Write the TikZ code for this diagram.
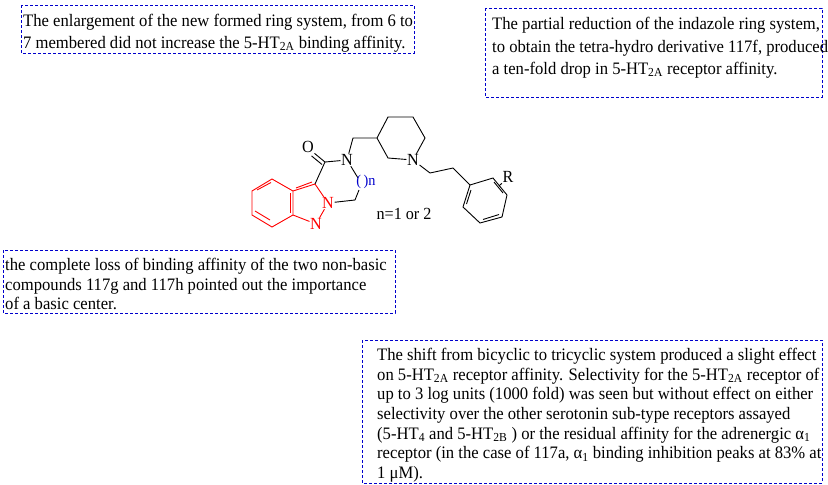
\documentclass[tikz,border=0pt]{standalone}
\usepackage{fontspec}
\setmainfont[FakeStretch=0.95]{Liberation Serif}
\usetikzlibrary{calc}
\newcommand{\sbs}[1]{\textsubscript{#1}}
\begin{document}
\begin{tikzpicture}[x=1pt,y=-1pt,
  box/.style={draw=blue!80!black,densely dashed,line width=0.8pt},
  txt/.style={anchor=base west,inner sep=0pt,font=\fontsize{17.5}{20}\selectfont},
  bd/.style={line width=0.9pt},
  rd/.style={bd,red},
  atm/.style={inner sep=0.5pt,font=\fontsize{17}{17}\selectfont}]
\useasboundingbox (0,0) rectangle (828,485);
% boxes
\draw[box] (21,5) rectangle (414,53);
\node[txt] (t1a) at (23,26) {The enlargement of the new formed ring system, from 6 to};
\node[txt] (t1b) at (23,48) {7 membered did not increase the 5-HT\sbs{2A} binding affinity.};
\draw[box] (485,8) rectangle (822,97);
\node[txt] (t2a) at (492,29) {The partial reduction of the indazole ring system,};
\node[txt] (t2b) at (492,52) {to obtain the tetra-hydro derivative 117f, produced};
\node[txt] (t2c) at (492,74) {a ten-fold drop in 5-HT\sbs{2A} receptor affinity.};
\draw[box] (3,250) rectangle (395,313);
\node[txt] (t3a) at (5,270) {the complete loss of binding affinity of the two non-basic};
\node[txt] (t3b) at (5,290) {compounds 117g and 117h pointed out the importance};
\node[txt] (t3c) at (5,309) {of a basic center.};
\draw[box] (362,340) rectangle (822,483);
\node[txt] (t4a) at (377,360) {The shift from bicyclic to tricyclic system produced a slight effect};
\node[txt] (t4b) at (377,380) {on 5-HT\sbs{2A} receptor affinity. Selectivity for the 5-HT\sbs{2A} receptor of};
\node[txt] (t4c) at (377,399.5) {up to 3 log units (1000 fold) was seen but without effect on either};
\node[txt] (t4d) at (377,419) {selectivity over the other serotonin sub-type receptors assayed};
\node[txt] (t4e) at (377,439) {(5-HT\sbs{4} and 5-HT\sbs{2B} ) or the residual affinity for the adrenergic α\sbs{1}};
\node[txt] (t4f) at (377,458.5) {receptor (in the case of 117a, α\sbs{1} binding inhibition peaks at 83\% at};
\node[txt] (t4g) at (377,478) {1 μM).};
% molecule
\coordinate (b1) at (252,191); \coordinate (b2) at (272,179);
\coordinate (b3) at (293,191); \coordinate (b4) at (293,215);
\coordinate (b5) at (272,227); \coordinate (b6) at (252,215);
\coordinate (c3) at (315,184);
\node[atm,red] (n1) at (328,203) {N};
\node[atm,red] (n2) at (316,224) {N};
\draw[rd] (b1)--(b2)--(b3)--(b4)--(b5)--(b6)--cycle;
\draw[rd] (257,190) -- (271,182.5);
\draw[rd] (255,211) -- (270,220);
\draw[rd] (290,193) -- (290,213);
\draw[rd] (b3)--(c3)--(n1)--(n2)--(b4);
\draw[rd] (296,188) -- (312,182);
\coordinate (cc) at (325,162);
\node[atm] (o) at (308,147) {O};
\node[atm] (na) at (347,160) {N};
\draw[bd] (c3)--(cc)--(na);
\draw[bd] (cc)--(o.south east);
\draw[bd] ($(cc)+(-3,2.5)$)--($(o.south east)+(-3,2.5)$);
\coordinate (m1) at (353,138); \coordinate (p3) at (377,138);
\coordinate (p4) at (388,117); \coordinate (p5) at (413,117);
\coordinate (p6) at (425,138); \node[atm] (pn) at (413,160) {N};
\coordinate (p2) at (388,158);
\draw[bd] (na)--(m1)--(p3)--(p4)--(p5)--(p6)--(pn)--(p2)--(p3);
\coordinate (r1) at (358,178); \coordinate (r2) at (355,200);
\draw[bd] (na)--(r1);
\draw[bd] (n1)--(r2)--(359,190);
\node[atm,text=blue!80!black,font=\fontsize{15}{15}\selectfont] (nn) at (366,182) {(\,)n};
\coordinate (e1) at (430,173); \coordinate (e2) at (453,168);
\coordinate (f1) at (470,185); \coordinate (f2) at (493,178);
\coordinate (f3) at (507,195); \coordinate (f4) at (502,217);
\coordinate (f5) at (480,223); \coordinate (f6) at (463,207);
\draw[bd] (pn)--(e1)--(e2)--(f1);
\draw[bd] (f1)--(f2)--(f3)--(f4)--(f5)--(f6)--cycle;
\draw[bd] (471,190)--(466.5,204);
\draw[bd] (483,219.5)--(499,214.5);
\draw[bd] (494,182)--(503,193);
\node[atm] (r) at (508,177) {R};
\draw[bd] (499,186)--(r.south west);
\node[atm] (neq) at (404,214) {n=1 or 2};
\end{tikzpicture}
\end{document}
